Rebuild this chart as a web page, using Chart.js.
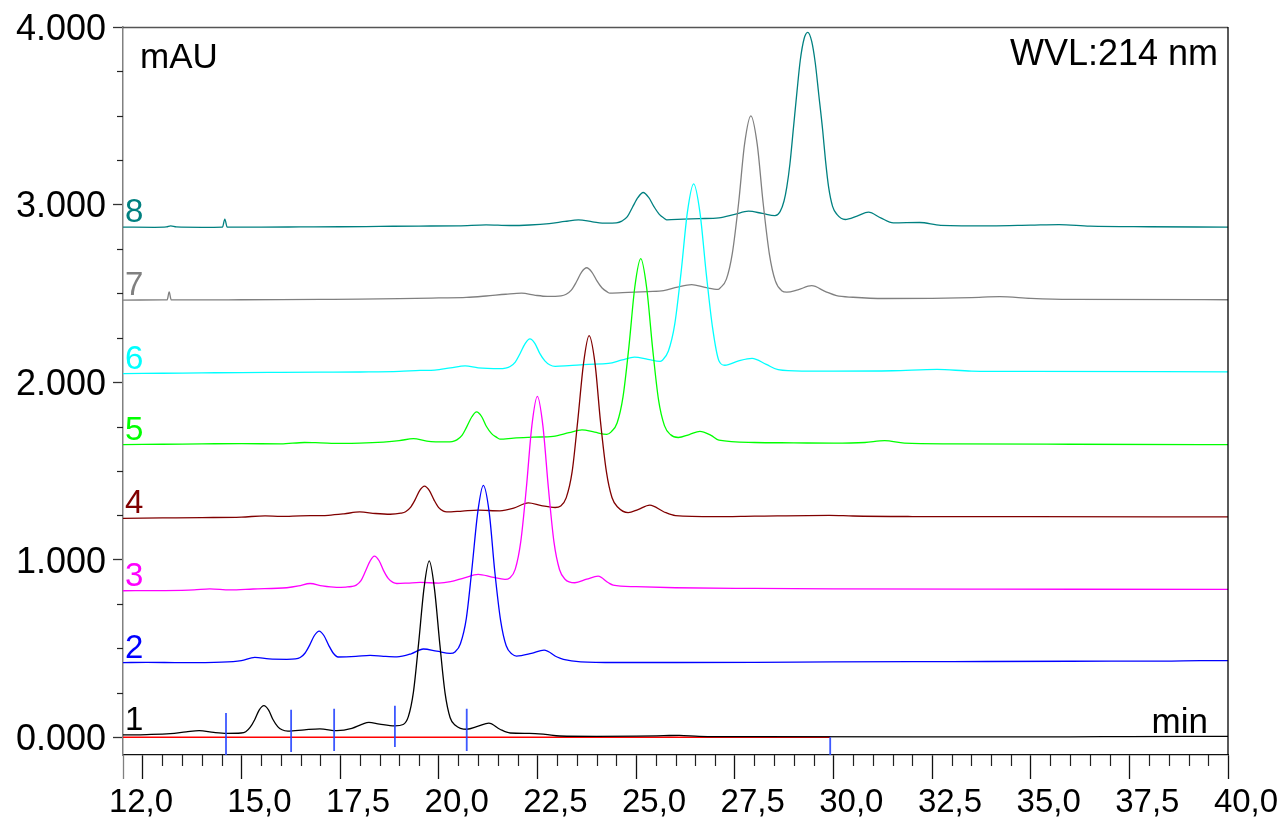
<!DOCTYPE html>
<html><head><meta charset="utf-8">
<script src="https://cdn.jsdelivr.net/npm/chart.js@4.4.0/dist/chart.umd.min.js"></script>
<style>html,body{margin:0;padding:0;background:#fff;}canvas{display:block;}</style>
</head><body>
<canvas id="c" width="1286" height="821"></canvas>
<script>
const traceNames = ['1','2','3','4','5','6','7','8'];
const traceColors = ['#000000','#0000ff','#ff00ff','#800000','#00ff00','#00ffff','#808080','#008080'];

const trace1 = [[12.0,13],[12.6,15],[13.2,20],[13.6,30],[13.93,37],[14.3,27],[14.63,22],[14.99,24],[15.11,31],[15.22,55],[15.34,100],[15.45,153],[15.57,178],[15.69,153],[15.80,100],[15.92,60],[16.03,42],[16.18,35],[16.6,42],[16.99,47],[17.42,37],[17.8,50],[18.05,72],[18.23,84],[18.5,74],[18.89,64],[19.10,72],[19.23,116],[19.36,256],[19.49,527],[19.63,844],[19.76,993],[19.89,840],[20.03,520],[20.16,250],[20.29,110],[20.42,68],[20.71,45],[21.0,62],[21.27,79],[21.55,45],[21.81,24],[22.3,22],[22.7,16],[23.07,7],[24.0,5],[25.0,6],[25.7,9],[26.1,11],[26.6,5],[28.0,3],[32.0,2],[36.0,2],[37.5,4],[40.0,5]];
const trace2 = [[12.0,420],[12.6,422],[13.5,420],[14.5,423],[15.0,432],[15.34,450],[15.7,441],[16.15,439],[16.37,441],[16.49,449],[16.61,473],[16.73,519],[16.85,573],[16.97,598],[17.09,573],[17.21,519],[17.33,473],[17.45,452],[17.9,455],[18.26,461],[18.6,456],[18.94,453],[19.3,470],[19.61,497],[19.95,485],[20.29,472],[20.42,482],[20.55,527],[20.70,670],[20.84,945],[20.99,1268],[21.13,1418],[21.28,1265],[21.42,935],[21.57,655],[21.71,515],[21.86,468],[21.97,457],[22.35,472],[22.67,491],[23.0,452],[23.16,439],[23.6,425],[24.5,421],[26.0,421],[28.0,422],[30.0,424],[33.0,426],[36.0,428],[38.5,429],[39.3,431],[40.0,431]];
const trace3 = [[12.0,825],[13.0,826],[13.8,830],[14.2,836],[14.71,830],[15.3,835],[16.15,842],[16.45,852],[16.74,866],[17.05,852],[17.41,844],[17.65,846],[17.79,849],[17.91,857],[18.03,882],[18.14,933],[18.26,992],[18.37,1020],[18.49,994],[18.60,940],[18.72,895],[18.84,872],[18.94,866],[19.2,868],[19.53,872],[20.0,868],[20.3,876],[20.65,898],[21.0,917],[21.35,902],[21.68,889],[21.80,897],[21.94,947],[22.08,1103],[22.22,1402],[22.36,1754],[22.50,1920],[22.64,1754],[22.78,1402],[22.92,1100],[23.06,945],[23.20,890],[23.45,870],[23.75,890],[24.04,907],[24.3,870],[24.42,857],[25.0,848],[26.0,842],[28.0,838],[30.0,836],[34.0,834],[40.0,833]];
const trace4 = [[12.0,1233],[13.0,1235],[14.0,1237],[15.0,1240],[15.6,1247],[16.0,1244],[16.49,1247],[17.2,1250],[17.6,1258],[18.0,1269],[18.4,1260],[18.77,1256],[19.04,1262],[19.16,1270],[19.28,1293],[19.40,1337],[19.52,1390],[19.64,1414],[19.76,1390],[19.88,1337],[20.00,1293],[20.12,1273],[20.2,1269],[20.6,1274],[21.0,1279],[21.55,1275],[21.9,1290],[22.27,1320],[22.6,1305],[22.95,1294],[23.09,1302],[23.23,1348],[23.38,1494],[23.52,1776],[23.67,2106],[23.81,2262],[23.96,2106],[24.10,1776],[24.25,1494],[24.39,1350],[24.54,1295],[24.8,1265],[25.05,1282],[25.35,1307],[25.7,1270],[26.0,1248],[27.0,1242],[28.0,1245],[29.9,1250],[30.5,1246],[32.0,1243],[35.0,1242],[40.0,1241]];
const trace5 = [[12.0,1648],[13.0,1650],[14.0,1652],[15.0,1654],[16.0,1652],[16.6,1660],[17.0,1658],[17.5,1655],[18.0,1656],[18.6,1662],[19.0,1670],[19.36,1682],[19.7,1668],[20.2,1663],[20.34,1665],[20.46,1675],[20.59,1700],[20.71,1748],[20.84,1805],[20.96,1832],[21.09,1805],[21.21,1750],[21.34,1710],[21.46,1690],[21.55,1679],[21.9,1685],[22.4,1690],[22.9,1695],[23.3,1715],[23.63,1731],[23.95,1718],[24.26,1706],[24.37,1720],[24.52,1770],[24.67,1917],[24.82,2200],[24.97,2537],[25.12,2695],[25.27,2530],[25.42,2190],[25.57,1900],[25.72,1755],[25.87,1705],[26.07,1688],[26.35,1705],[26.62,1723],[26.9,1700],[27.1,1673],[28.0,1660],[29.0,1658],[30.0,1656],[30.8,1660],[31.3,1670],[31.8,1656],[33.0,1652],[36.0,1650],[40.0,1648]];
const trace6 = [[12.0,2048],[13.0,2050],[14.0,2052],[15.0,2054],[16.0,2055],[17.0,2056],[18.0,2057],[19.0,2060],[19.53,2066],[19.9,2068],[20.3,2080],[20.67,2091],[21.0,2080],[21.55,2076],[21.69,2079],[21.81,2088],[21.94,2113],[22.06,2160],[22.19,2217],[22.31,2243],[22.44,2217],[22.56,2162],[22.69,2120],[22.81,2098],[22.95,2089],[23.3,2093],[23.79,2100],[24.3,2105],[24.65,2125],[24.96,2141],[25.3,2128],[25.61,2117],[25.66,2122],[25.82,2175],[25.98,2325],[26.14,2615],[26.30,2955],[26.46,3117],[26.62,2955],[26.78,2610],[26.94,2305],[27.10,2120],[27.25,2095],[27.6,2120],[27.94,2134],[28.3,2100],[28.6,2070],[29.2,2062],[30.0,2062],[31.5,2064],[32.63,2072],[33.5,2062],[35.0,2060],[40.0,2058]];
const trace7 = [[12.0,2462],[13.0,2463],[13.12,2464],[13.17,2508],[13.22,2464],[13.4,2463],[14.0,2463],[15.0,2464],[16.0,2465],[17.0,2466],[18.0,2467],[19.0,2470],[20.0,2474],[20.7,2477],[21.2,2485],[21.7,2495],[22.1,2501],[22.45,2489],[22.75,2483],[23.10,2486],[23.23,2495],[23.36,2518],[23.49,2565],[23.62,2620],[23.75,2644],[23.88,2620],[24.01,2570],[24.14,2530],[24.27,2508],[24.34,2501],[24.8,2505],[25.3,2510],[25.7,2515],[26.05,2535],[26.41,2549],[26.75,2533],[27.08,2522],[27.13,2530],[27.29,2580],[27.44,2725],[27.60,3010],[27.75,3340],[27.91,3499],[28.07,3340],[28.22,3010],[28.38,2720],[28.53,2570],[28.69,2515],[28.82,2507],[29.1,2520],[29.45,2543],[29.8,2510],[30.08,2487],[30.5,2478],[31.3,2471],[32.5,2472],[33.5,2476],[34.22,2481],[35.0,2472],[36.0,2466],[40.0,2464]];
const trace8 = [[12.0,2873],[12.8,2872],[13.1,2874],[13.21,2880],[13.35,2874],[14.0,2872],[14.52,2873],[14.58,2918],[14.64,2873],[15.5,2873],[16.5,2874],[17.5,2875],[18.5,2877],[19.5,2879],[20.5,2880],[21.2,2886],[21.8,2882],[22.3,2885],[22.8,2893],[23.2,2905],[23.54,2914],[23.9,2903],[24.25,2895],[24.50,2897],[24.64,2907],[24.78,2932],[24.91,2985],[25.05,3040],[25.18,3068],[25.32,3040],[25.45,2990],[25.59,2945],[25.72,2922],[25.78,2914],[26.2,2918],[26.6,2921],[27.1,2925],[27.5,2945],[27.85,2963],[28.2,2950],[28.52,2938],[28.65,2960],[28.75,3020],[28.82,3098],[28.90,3230],[28.99,3435],[29.08,3640],[29.16,3810],[29.26,3935],[29.35,3970],[29.45,3920],[29.54,3800],[29.63,3620],[29.73,3417],[29.80,3250],[29.88,3098],[29.98,2990],[30.09,2945],[30.30,2916],[30.6,2935],[30.89,2957],[31.2,2925],[31.52,2897],[32.19,2899],[32.72,2883],[34.0,2880],[35.0,2884],[35.72,2887],[36.5,2878],[38.0,2875],[40.0,2873]];
const traces = [trace1, trace2, trace3, trace4, trace5, trace6, trace7, trace8];

// integration markers on trace 1: [time, top value, bottom value]
const integrationMarkers = [[14.61,137,-100],[16.26,155,-83],[17.35,160,-77],[18.89,177,-55],[20.71,160,-77],[29.92,0,-100]];
const baselineSegment = [[12.0,0],[29.92,0]];

const xTickValues = [12, 12.5, 15, 17.5, 20, 22.5, 25, 27.5, 30, 32.5, 35, 37.5, 40];
const xTickLabels = ['12,0','','15,0','17,5','20,0','22,5','25,0','27,5','30,0','32,5','35,0','37,5','40,0'];
const yTickValues = [0, 1000, 2000, 3000, 4000];
const yTickLabels = ['0.000','1.000','2.000','3.000','4.000'];

const FONT = '"Liberation Sans", Arial, Helvetica, sans-serif';
const toXY = arr => arr.map(p => ({x: p[0], y: p[1]}));

const datasets = [];
integrationMarkers.forEach(m => datasets.push({
  data: [{x: m[0], y: m[1]}, {x: m[0], y: m[2]}],
  borderColor: 'rgba(40,70,255,0.9)', borderWidth: 1.8, tension: 0, pointRadius: 0
}));
datasets.push({data: toXY(trace1), borderColor: traceColors[0], borderWidth: 1.3, cubicInterpolationMode: 'monotone', pointRadius: 0});
datasets.push({data: toXY(baselineSegment), borderColor: '#ff0000', borderWidth: 1.4, tension: 0, pointRadius: 0});
for (let i = 1; i < traces.length; i++) {
  datasets.push({data: toXY(traces[i]), borderColor: traceColors[i], borderWidth: 1.3, cubicInterpolationMode: 'monotone', pointRadius: 0});
}

const decor = {
  id: 'decor',
  afterDraw(chart) {
    const ctx = chart.ctx, a = chart.chartArea;
    const xs = chart.scales.x, ys = chart.scales.y;
    ctx.save();
    ctx.lineWidth = 1.3;
    ctx.strokeStyle = '#555';
    ctx.beginPath(); ctx.moveTo(a.left, a.top + 0.5); ctx.lineTo(a.right, a.top + 0.5); ctx.stroke();
    ctx.strokeStyle = '#000';
    ctx.beginPath(); ctx.moveTo(a.right, a.top); ctx.lineTo(a.right, a.bottom); ctx.stroke();
    ctx.strokeStyle = '#222';
    ctx.lineWidth = 1.2;
    for (let v = 250; v < 4000; v += 250) {
      if (v % 1000 === 0) continue;
      const y = Math.round(ys.getPixelForValue(v)) + 0.5;
      ctx.beginPath(); ctx.moveTo(a.left - 6, y); ctx.lineTo(a.left, y); ctx.stroke();
    }
    for (let t = 12.5; t < 40; t += 0.5) {
      if (xTickValues.some(m => Math.abs(m - t) < 1e-6)) continue;
      const x = Math.round(xs.getPixelForValue(t)) + 0.5;
      ctx.beginPath(); ctx.moveTo(x, a.bottom); ctx.lineTo(x, a.bottom + 11); ctx.stroke();
    }
    ctx.fillStyle = '#000';
    ctx.textBaseline = 'alphabetic';
    ctx.font = '35px ' + FONT;
    ctx.textAlign = 'left';
    ctx.fillText('mAU', 140, 68);
    ctx.font = '36px ' + FONT;
    ctx.textAlign = 'right';
    ctx.fillText('WVL:214 nm', 1218, 65);
    ctx.font = '35px ' + FONT;
    ctx.fillText('min', 1208, 733);
    ctx.font = '33px ' + FONT;
    ctx.textAlign = 'left';
    traces.forEach((tr, i) => {
      ctx.fillStyle = traceColors[i];
      ctx.fillText(traceNames[i], 125, ys.getPixelForValue(tr[0][1]) - 5);
    });
    ctx.restore();
  }
};

new Chart(document.getElementById('c'), {
  type: 'line',
  data: {datasets},
  options: {
    responsive: false, animation: false, devicePixelRatio: 1,
    layout: {padding: {top: 27, right: 58, left: 0, bottom: 0}},
    plugins: {legend: {display: false}, tooltip: {enabled: false}},
    elements: {point: {radius: 0}},
    scales: {
      x: {
        type: 'linear', min: 12, max: 40, position: 'bottom',
        afterBuildTicks: ax => { ax.ticks = xTickValues.map(v => ({value: v})); },
        afterFit: s => { s.height = 66; s.paddingLeft = 0; s.paddingRight = 0; },
        ticks: {autoSkip: false, maxRotation: 0, minRotation: 0, labelOffset: 18, padding: 4, color: '#000',
          font: {family: FONT, size: 33}, callback: (v, i) => xTickLabels[i]},
        grid: {drawOnChartArea: false, drawTicks: true, tickLength: 24, tickWidth: 1.3,
          tickColor: c => (c.tick && c.tick.value === 12) ? '#808080' : '#111'},
        border: {display: true, color: '#111', width: 1.3}
      },
      y: {
        type: 'linear', min: -100, max: 4000, position: 'left',
        afterBuildTicks: ax => { ax.ticks = yTickValues.map(v => ({value: v})); },
        afterFit: s => { s.width = 123; s.paddingTop = 0; s.paddingBottom = 0; },
        ticks: {autoSkip: false, padding: 7, labelOffset: 3, color: '#000', font: {family: FONT, size: 36},
          callback: (v, i) => yTickLabels[i]},
        grid: {drawOnChartArea: false, drawTicks: true, tickLength: 10, tickWidth: 1.3, tickColor: '#333'},
        border: {display: true, color: '#808080', width: 1.5}
      }
    }
  },
  plugins: [decor]
});
</script>
</body></html>
